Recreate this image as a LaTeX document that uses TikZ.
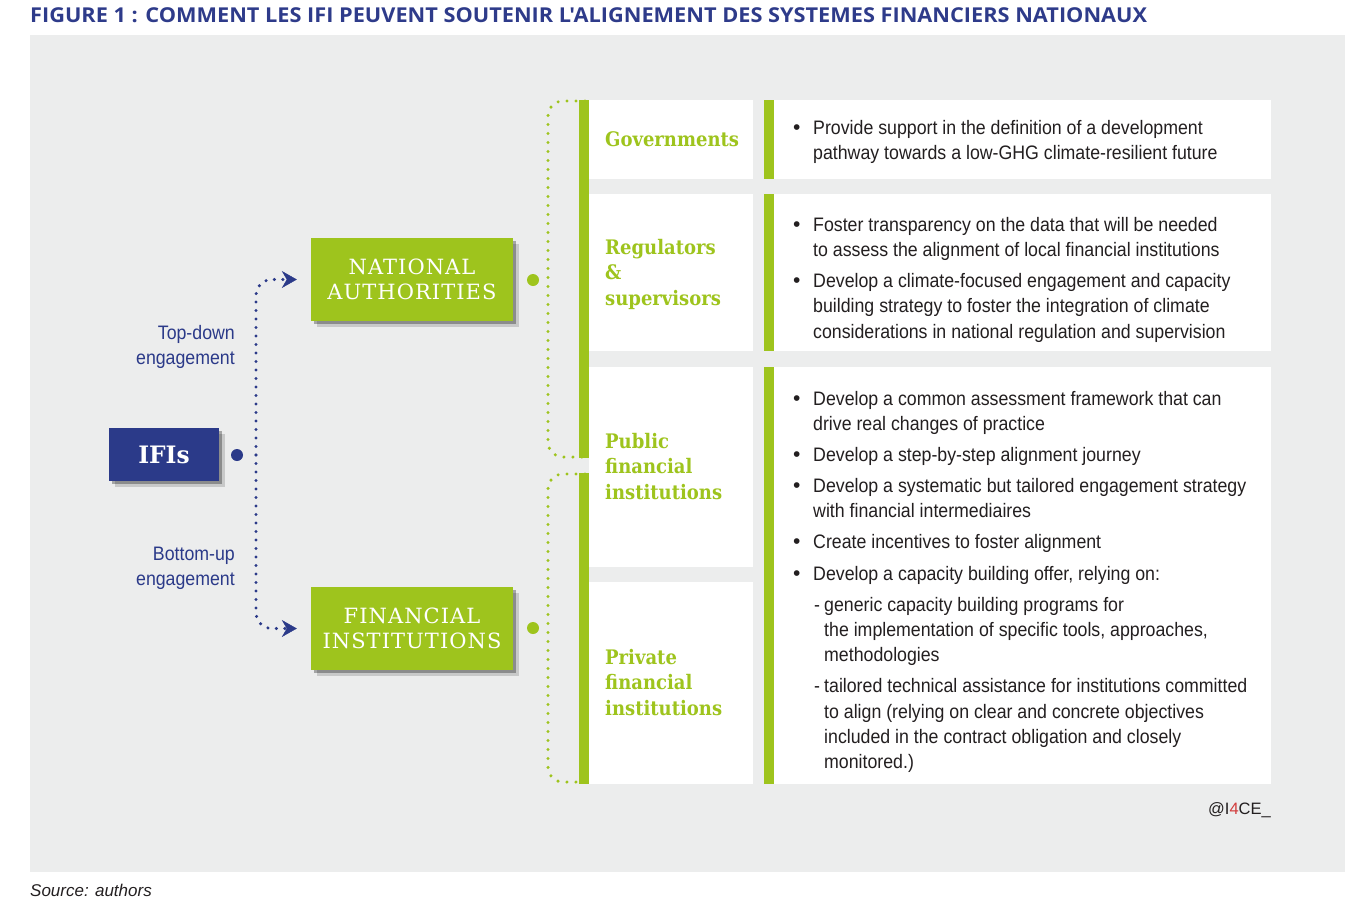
\documentclass[tikz,border=0pt]{standalone}
\usepackage{fontspec}
\setmainfont{Liberation Sans}
\newfontfamily\condf[FakeStretch=0.91]{Liberation Sans}
\newfontfamily\slabbold[FakeStretch=0.9]{DejaVu Serif}
\newfontfamily\slabboldw[FakeStretch=0.97]{DejaVu Serif}
\newfontfamily\slabreg[LetterSpace=5]{DejaVu Serif}
\newfontfamily\titlef[FakeStretch=1.06]{Open Sans}
\usetikzlibrary{arrows.meta,shadows}
\definecolor{igreen}{HTML}{9EC41D}
\definecolor{iblue}{HTML}{2B3A89}
\definecolor{ititle}{HTML}{2E3B8A}
\definecolor{ibg}{HTML}{ECEDED}
\definecolor{itext}{HTML}{231F20}
\definecolor{ired}{HTML}{D23C3C}
\newcommand\bul{\makebox[20pt][l]{\rmfamily\fontsize{21}{21}\selectfont\textbullet}}
\newcommand\bitem[1]{\hangindent=20pt\hangafter=1\noindent\bul#1\par}
\newcommand\sitem[1]{\hangindent=31pt\hangafter=1\noindent\hspace*{21pt}\makebox[10pt][l]{-}#1\par}
\newcommand\panelfont{\condf\fontsize{19.5}{25.3}\selectfont\setlength\parskip{5.8pt}\raggedright}
\newcommand\catfont{\slabbold\bfseries\fontsize{20}{25.5}\selectfont}
\tikzset{
  shadowed/.style={drop shadow={shadow xshift=3pt,shadow yshift=-3pt,opacity=.3,fill=black},
                   drop shadow={shadow xshift=6pt,shadow yshift=-6pt,opacity=.15,fill=black}},
  greenbox/.style={shadowed,fill=igreen,text=white,minimum width=202pt,minimum height=83pt,inner sep=0pt,
                   align=center,font=\slabreg\fontsize{21}{25.5}\selectfont},
  bluebox/.style={shadowed,fill=iblue,text=white,minimum width=110pt,minimum height=53pt,inner sep=0pt,
                   font=\slabboldw\bfseries\fontsize{24}{28}\selectfont},
  dotnode/.style={circle,minimum size=12pt,inner sep=0pt},
  bdots/.style={draw=iblue,line width=3.4pt,dash pattern=on 0pt off 8.5pt,line cap=round,rounded corners=16pt},
  gdots/.style={draw=igreen,line width=3.4pt,dash pattern=on 0pt off 9pt,line cap=round,rounded corners=15pt},
  catlabel/.style={anchor=base west,inner sep=0pt,text=igreen,font=\catfont},
  paneltext/.style={anchor=base west,inner sep=0pt,text=itext},
  engtext/.style={anchor=base east,inner sep=0pt,text=iblue,font=\condf\fontsize{19.5}{25.3}\selectfont},
  tiparrow/.style={-{Stealth[length=15pt,width=17pt,inset=5pt,line width=0.4pt]}},
}
\begin{document}
\begin{tikzpicture}[x=1pt,y=-1pt]
\useasboundingbox (0,0) rectangle (1356,900);
\fill[ibg] (30,35) rectangle (1345,872);
\node[anchor=base west,inner sep=0pt,text=ititle,font=\titlef\bfseries\fontsize{20.5}{22}\selectfont] (title) at (30,22)
  {FIGURE 1 : COMMENT LES IFI PEUVENT SOUTENIR L'ALIGNEMENT DES SYSTEMES FINANCIERS NATIONAUX};
\node[anchor=base west,inner sep=0pt,font=\itshape\fontsize{17}{18}\selectfont,text=itext] (source) at (30,896) {Source: authors};
\node[anchor=base east,inner sep=0pt,font=\fontsize{16.5}{18}\selectfont,text=itext] (logo) at (1271,814) {@I{\color{ired}4}CE\_};

% left column
\node[bluebox] (ifis) at (164,454.5) {IFIs};
\node[dotnode,fill=iblue] (ifidot) at (237,455) {};
\node[greenbox] (na) at (412,279.5) {NATIONAL\\AUTHORITIES};
\node[greenbox] (fi) at (412,628.5) {FINANCIAL\\INSTITUTIONS};
\node[dotnode,fill=igreen] (nadot) at (533,280) {};
\node[dotnode,fill=igreen] (fidot) at (533,628) {};
\coordinate (split) at (256,455);
\draw[bdots,shorten >=14pt,tiparrow] (split) |- (na.west);
\draw[bdots,shorten >=14pt,tiparrow] (split) |- (fi.west);
\node[engtext] (topdown) at (235,339) {\parbox[t]{130pt}{\raggedleft Top-down\\engagement}};
\node[engtext] (bottomup) at (235,560) {\parbox[t]{130pt}{\raggedleft Bottom-up\\engagement}};

% brackets
\coordinate (b1a) at (585,101);
\coordinate (b1b) at (585,457);
\coordinate (b2a) at (585,474);
\coordinate (b2b) at (585,782);
\draw[gdots] (b1a) -- (548,101) -- (548,457) -- (b1b);
\draw[gdots] (b2a) -- (548,474) -- (548,782) -- (b2b);

% bars and cells
\fill[igreen] (579,100) rectangle (589,458);
\fill[igreen] (579,473) rectangle (589,784);
\fill[white] (589,100) rectangle (753,179);
\fill[white] (589,194) rectangle (753,351);
\fill[white] (589,367) rectangle (753,567);
\fill[white] (589,582) rectangle (753,784);
\fill[igreen] (764,100) rectangle (774,179);
\fill[igreen] (764,194) rectangle (774,351);
\fill[igreen] (764,367) rectangle (774,784);
\fill[white] (774,100) rectangle (1271,179);
\fill[white] (774,194) rectangle (1271,351);
\fill[white] (774,367) rectangle (1271,784);

% category labels
\node[catlabel] (lgov) at (605,146) {\parbox[t]{150pt}{Governments}};
\node[catlabel] (lreg) at (605,254) {\parbox[t]{150pt}{Regulators\\\&\\supervisors}};
\node[catlabel] (lpub) at (605,448) {\parbox[t]{150pt}{Public\\financial\\institutions}};
\node[catlabel] (lpriv) at (605,664) {\parbox[t]{150pt}{Private\\financial\\institutions}};

% panel texts
\node[paneltext] (tgov) at (793,134) {\parbox[t]{520pt}{\panelfont
\bitem{Provide support in the definition of a development\newline pathway towards a low-GHG climate-resilient future}}};
\node[paneltext] (treg) at (793,231) {\parbox[t]{520pt}{\panelfont
\bitem{Foster transparency on the data that will be needed\newline to assess the alignment of local financial institutions}
\bitem{Develop a climate-focused engagement and capacity\newline building strategy to foster the integration of climate\newline considerations in national regulation and supervision}}};
\node[paneltext] (tfin) at (793,405) {\parbox[t]{520pt}{\panelfont
\bitem{Develop a common assessment framework that can\newline drive real changes of practice}
\bitem{Develop a step-by-step alignment journey}
\bitem{Develop a systematic but tailored engagement strategy\newline with financial intermediaires}
\bitem{Create incentives to foster alignment}
\bitem{Develop a capacity building offer, relying on:}
\sitem{generic capacity building programs for\newline the implementation of specific tools, approaches,\newline methodologies}
\sitem{tailored technical assistance for institutions committed\newline to align (relying on clear and concrete objectives\newline included in the contract obligation and closely\newline monitored.)}}};
\end{tikzpicture}
\end{document}
